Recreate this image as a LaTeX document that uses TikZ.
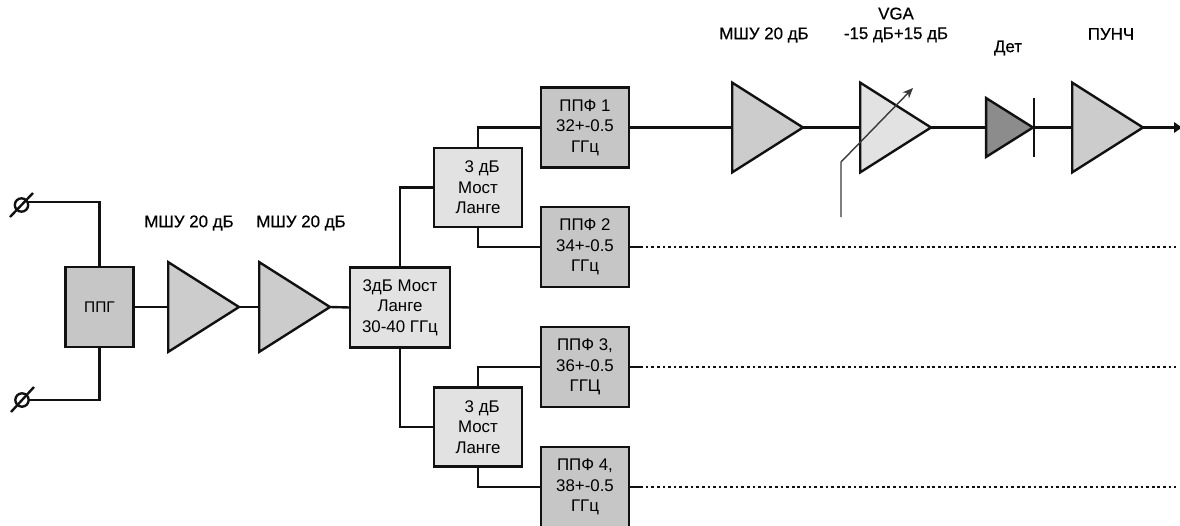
\documentclass[tikz,border=0pt]{standalone}
\usepackage{fontspec}
\setmainfont{Liberation Sans}
\newfontfamily\lblfont[FakeBold=0.5]{Liberation Sans}
\usetikzlibrary{arrows.meta,shapes.geometric}
\definecolor{ampgray}{HTML}{CCCCCC}
\definecolor{vgagray}{HTML}{E2E2E2}
\definecolor{detgray}{HTML}{8C8C8C}
\definecolor{ppfgray}{HTML}{C6C6C6}
\definecolor{inkgray}{HTML}{111111}
\tikzset{
  wire/.style={line width=1.7pt, inkgray},
  dotw/.style={line width=1.7pt, inkgray, dash pattern=on 1.9pt off 2.1pt},
  ctl/.style={-{Stealth[length=2.6mm,width=2.2mm]}, line width=1pt, gray!45!black},
  amp/.style={draw=inkgray, line width=1.7pt, fill=ampgray, isosceles triangle, isosceles triangle stretches,
    inner sep=0pt, outer sep=0pt, minimum height=71pt*0.7087, minimum width=90pt*0.7087, anchor=apex},
  blk/.style={draw=inkgray, line width=1.7pt, align=center, inner sep=0pt, outer sep=0pt, font=\fontsize{12}{14.6}\selectfont},
  ppf/.style={blk, fill=ppfgray, minimum width=62.5pt, minimum height=57pt},
  brg/.style={blk, fill=vgagray, minimum width=62.5pt, minimum height=56pt},
  lbl/.style={align=center, inner sep=0pt, font=\lblfont\fontsize{12}{14}\selectfont},
  port/.style={circle, draw=inkgray, line width=1.7pt, inner sep=0pt, outer sep=0pt, minimum size=9.5pt},
}
\begin{document}
\begin{tikzpicture}[x=0.025cm,y=-0.025cm]
  \useasboundingbox (0,0) rectangle (1180,526);
  % input side
  \node[blk, fill=ppfgray, minimum width=48.5pt, minimum height=56.5pt, font=\fontsize{11}{12}\selectfont] (ppg) at (99.5,307) {ППГ};
  \node[amp] (ampA) at (239,307) {};
  \node[amp] (ampB) at (330,307) {};
  \node[blk, fill=vgagray, minimum width=71.5pt, minimum height=57pt] (brgM) at (400,307.5) {3дБ Мост\\Ланге\\30-40 ГГц};
  \node[lbl] (lblA) at (189,223) {МШУ 20 дБ};
  \node[lbl] (lblB) at (301,223) {МШУ 20 дБ};
  \node[port] (phiA) at (21.5,205) {};
  \node[port] (phiB) at (22,400) {};
  \coordinate (phiAs) at (10,217); \coordinate (phiAe) at (33,193);
  \coordinate (phiBs) at (11,412); \coordinate (phiBe) at (34,387);
  \draw[wire] (phiAs) -- (phiAe);
  \draw[wire] (phiBs) -- (phiBe);
  \draw[wire] (phiA.25) -| (ppg.north);
  \draw[wire] (phiB.east) -| (ppg.south);
  \draw[wire] (ppg.east) -- (ampA.lower side);
  \draw[wire] (ampA.apex) -- (ampB.lower side);
  \draw[wire] (ampB.apex) -- (brgM.west);
  % bridges and filters
  \node[brg] (brgU) at (478,187.5) {\hspace{0.5em}3 дБ\\Мост\\Ланге};
  \node[brg] (brgL) at (478,427) {\hspace{0.5em}3 дБ\\Мост\\Ланге};
  \node[ppf] (ppfA) at (585,127.5) {ППФ 1\\32+-0.5\\ГГц};
  \node[ppf] (ppfB) at (585,247) {ППФ 2\\34+-0.5\\ГГц};
  \node[ppf] (ppfC) at (585,367) {ППФ 3,\\36+-0.5\\ГГЦ};
  \node[ppf] (ppfD) at (585,487) {ППФ 4,\\38+-0.5\\ГГц};
  \draw[wire] (brgM.north) |- (brgU.west);
  \draw[wire] (brgM.south) |- (brgL.west);
  \draw[wire] (brgU.north) |- (ppfA.west);
  \draw[wire] (brgU.south) |- (ppfB.west);
  \draw[wire] (brgL.north) |- (ppfC.west);
  \draw[wire] (brgL.south) |- (ppfD.west);
  % dotted outputs
  \coordinate (stubB) at (640,247); \coordinate (endB) at (1176,247);
  \coordinate (stubC) at (640,367); \coordinate (endC) at (1176,367);
  \coordinate (stubD) at (640,487); \coordinate (endD) at (1176,487);
  \draw[wire] (ppfB.east) -- (stubB);
  \draw[wire] (ppfC.east) -- (stubC);
  \draw[wire] (ppfD.east) -- (stubD);
  \draw[dotw] (stubB) -- (endB);
  \draw[dotw] (stubC) -- (endC);
  \draw[dotw] (stubD) -- (endD);
  % upper chain
  \node[amp] (ampC) at (803,127.5) {};
  \node[amp, fill=vgagray] (vga) at (931,127.5) {};
  \node[amp, fill=detgray, minimum height=47pt*0.7087, minimum width=59pt*0.7087] (det) at (1033,127.5) {};
  \node[amp] (lpf) at (1143,127.5) {};
  \coordinate (barT) at (1034,98); \coordinate (barB) at (1034,157);
  \coordinate (out) at (1182,127.5);
  \coordinate (ctlA) at (841,217); \coordinate (ctlB) at (841,162); \coordinate (ctlC) at (913,88);
  \draw[wire] (ppfA.east) -- (ampC.lower side);
  \draw[wire] (ampC.apex) -- (vga.lower side);
  \draw[wire] (vga.apex) -- (det.lower side);
  \draw[wire] (det.apex) -- (lpf.lower side);
  \draw[wire] (barT) -- (barB);
  \draw[wire, -{Triangle[length=2mm,width=2.6mm]}] (lpf.apex) -- (out);
  \draw[ctl] (ctlA) -- (ctlB) -- (ctlC);
  \node[lbl] (lblC) at (764,35) {МШУ 20 дБ};
  \node[lbl] (lblV) at (896,25) {VGA\\-15 дБ+15 дБ};
  \node[lbl] (lblD) at (1008,48) {Дет};
  \node[lbl] (lblP) at (1111,34) {ПУНЧ};
\end{tikzpicture}
\end{document}
